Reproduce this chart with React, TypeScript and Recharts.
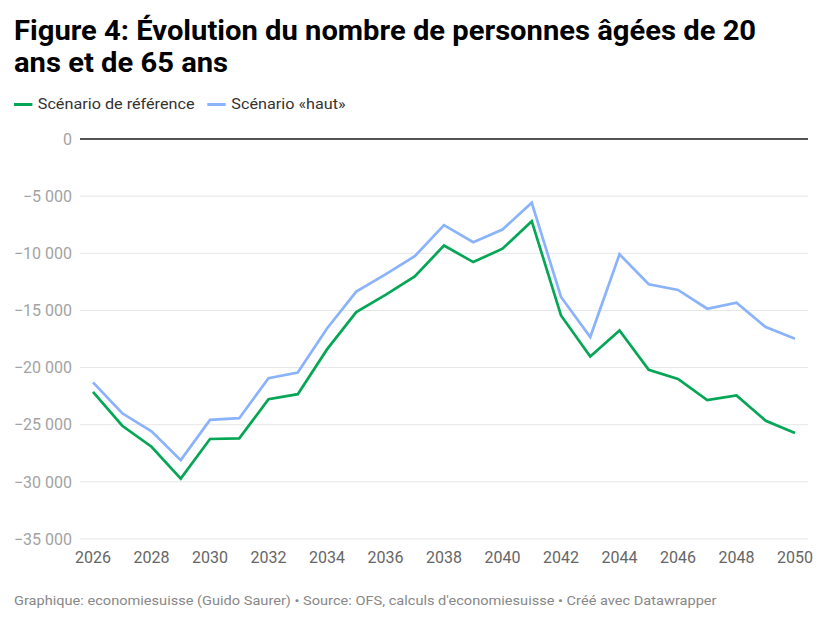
import { CartesianGrid, Line, LineChart, ReferenceLine, XAxis, YAxis } from "recharts";

const years = [
  2026, 2027, 2028, 2029, 2030, 2031, 2032, 2033, 2034, 2035, 2036, 2037, 2038,
  2039, 2040, 2041, 2042, 2043, 2044, 2045, 2046, 2047, 2048, 2049, 2050,
];

const reference = [
  -22130, -25090, -26930, -29710, -26250, -26200, -22770, -22330, -18410, -15150,
  -13640, -12030, -9320, -10770, -9600, -7190, -15440, -19030, -16750, -20200,
  -20990, -22850, -22440, -24660, -25730,
];

const haut = [
  -21300, -24000, -25580, -28100, -24580, -24430, -20930, -20440, -16575, -13350,
  -11840, -10260, -7540, -9030, -7920, -5580, -13820, -17330, -10090, -12710,
  -13210, -14850, -14320, -16460, -17480,
];

const xTicks = [2026, 2028, 2030, 2032, 2034, 2036, 2038, 2040, 2042, 2044, 2046, 2048, 2050];
const yTicks = [0, -5000, -10000, -15000, -20000, -25000, -30000, -35000];

const GREEN = "#05a655";
const BLUE = "#8ab3fb";

const chartData = years.map((year, i) => ({
  year,
  reference: reference[i],
  haut: haut[i],
}));

function formatY(value: number) {
  const abs = Math.abs(value)
    .toString()
    .replace(/\B(?=(\d{3})+(?!\d))/g, " ");
  return value < 0 ? `\u2212${abs}` : abs;
}

// the reference text is a bit wider than Roboto, so stretch it slightly
const stretch = { transform: "scaleX(1.08)", transformOrigin: "0 0" };

function LegendItem({ color, label }: { color: string; label: string }) {
  return (
    <span style={{ display: "inline-flex", alignItems: "center", marginRight: 12 }}>
      <span style={{ width: 17, height: 3, background: color, marginRight: 5, display: "inline-block" }} />
      {label}
    </span>
  );
}

export default function App() {
  return (
    <div
      style={{
        position: "absolute",
        top: 0,
        left: 0,
        width: 826,
        height: 624,
        background: "#fff",
        fontFamily: "Roboto, sans-serif",
        overflow: "hidden",
      }}
    >
      <div
        style={{
          position: "absolute",
          top: 16,
          left: 14,
          fontSize: 27,
          fontWeight: 700,
          lineHeight: "31.5px",
          color: "#000",
          whiteSpace: "nowrap",
          ...stretch,
        }}
      >
        Figure 4: Évolution du nombre de personnes âgées de 20
        <br />
        ans et de 65 ans
      </div>
      <div
        style={{
          position: "absolute",
          top: 95,
          left: 14,
          fontSize: 15,
          color: "#333",
          display: "flex",
          whiteSpace: "nowrap",
          ...stretch,
        }}
      >
        <LegendItem color={GREEN} label="Scénario de référence" />
        <LegendItem color={BLUE} label="Scénario «haut»" />
      </div>
      <div style={{ position: "absolute", top: 120, left: 0 }}>
        <LineChart
          width={826}
          height={449}
          data={chartData}
          margin={{ top: 19, right: 18, bottom: 0, left: 0 }}
        >
          <CartesianGrid vertical={false} stroke="#e6e6e6" strokeWidth={1} />
          <XAxis
            dataKey="year"
            type="number"
            domain={[2026, 2050]}
            ticks={xTicks}
            interval={0}
            padding={{ left: 13, right: 13 }}
            axisLine={false}
            tickLine={false}
            tickMargin={7}
            height={30}
            tick={{ fill: "#666", fontSize: 16 }}
          />
          <YAxis
            type="number"
            domain={[-35000, 0]}
            ticks={yTicks}
            width={80}
            axisLine={false}
            tickLine={false}
            tickFormatter={formatY}
            tick={{ fill: "#a3a3a3", fontSize: 16 }}
          />
          <ReferenceLine y={0} stroke="#555" strokeWidth={2} />
          <Line
            dataKey="haut"
            type="linear"
            stroke={BLUE}
            strokeWidth={2.7}
            dot={false}
            isAnimationActive={false}
          />
          <Line
            dataKey="reference"
            type="linear"
            stroke={GREEN}
            strokeWidth={2.7}
            dot={false}
            isAnimationActive={false}
          />
        </LineChart>
      </div>
      <div
        style={{
          position: "absolute",
          top: 592,
          left: 14,
          fontSize: 13.5,
          color: "#888",
          whiteSpace: "nowrap",
          ...stretch,
        }}
      >
        Graphique: economiesuisse (Guido Saurer) • Source: OFS, calculs d'economiesuisse • Créé avec Datawrapper
      </div>
    </div>
  );
}
